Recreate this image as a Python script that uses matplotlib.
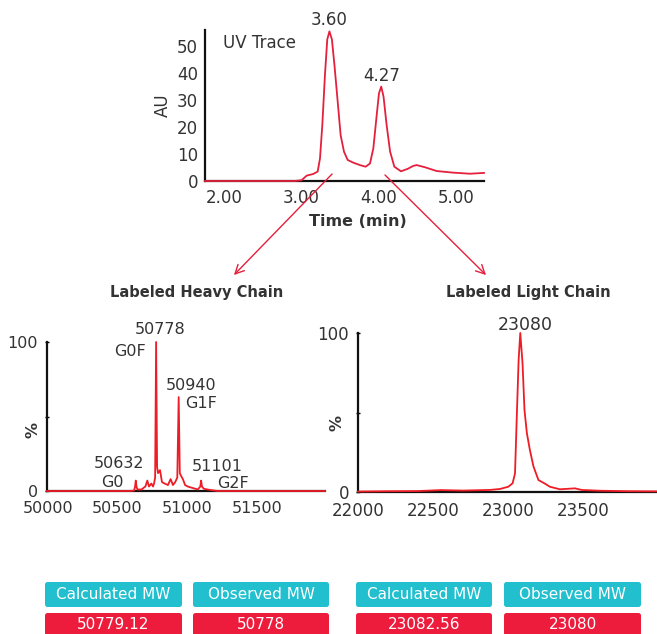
import numpy as np
import matplotlib
matplotlib.use("Agg")
import matplotlib.pyplot as plt
from matplotlib.patches import FancyArrowPatch, FancyBboxPatch

# ------ Data ------#

# UV chromatogram (time in min, absorbance)
uv_time = [1.99, 3.15, 3.24, 3.306, 3.39, 3.448, 3.478, 3.508, 3.542, 3.572, 3.60,
           3.632, 3.665, 3.707, 3.745, 3.788, 3.836, 3.909, 3.995, 4.069, 4.125,
           4.168, 4.212, 4.241, 4.27, 4.30, 4.34, 4.385, 4.44, 4.526, 4.612,
           4.685, 4.729, 4.836, 4.987, 5.202, 5.418, 5.60]
uv_au = [0.0, 0.0, 0.3, 2.0, 2.6, 3.5, 8.4, 20.8, 39.3, 52.5, 55.5,
         52.5, 43.0, 29.4, 17.0, 10.9, 7.8, 6.8, 5.9, 5.3, 6.5,
         12.1, 24.5, 32.5, 35.0, 31.3, 20.8, 10.9, 5.3, 3.6, 4.5,
         5.6, 5.9, 5.1, 3.7, 3.1, 2.7, 3.0]
UV_PEAKS = [3.60, 4.27]
TIME_TICKS = [2.00, 3.00, 4.00, 5.00]
TICK_SHIFT = 0.235  # axis scale lags the reported retention times

# deconvoluted heavy chain spectrum (Da, %)
hc_mass = [49995, 50590, 50620, 50627, 50632, 50637, 50644, 50673, 50701, 50715, 50727,
           50744, 50756, 50763, 50771, 50778, 50785, 50792, 50806, 50820, 50839, 50863,
           50882, 50899, 50915, 50930, 50940, 50948, 50958, 50970, 50986, 51005, 51041,
           51077, 51095, 51101, 51107, 51120, 51160, 51220, 51990]
hc_pct = [0.0, 0.0, 0.3, 3.0, 7.0, 3.0, 1.0, 1.0, 3.0, 7.0, 3.0,
          5.0, 3.0, 5.0, 9.0, 100.0, 16.0, 12.0, 14.0, 6.0, 5.0, 4.0,
          8.0, 4.0, 6.0, 9.0, 63.0, 12.0, 10.0, 8.0, 4.0, 3.0, 2.0,
          1.0, 3.0, 7.0, 3.0, 1.5, 0.8, 0.0, 0.0]
HC_PEAKS = [50632, 50778, 50940, 51101]
HC_GLYCANS = ["G0", "G0F", "G1F", "G2F"]

# deconvoluted light chain spectrum (Da, %)
lc_mass = [22000, 22200, 22400, 22552, 22700, 22878, 22945, 23000, 23029, 23045,
           23056, 23069, 23080, 23095, 23108, 23124, 23144, 23168, 23201, 23240,
           23277, 23344, 23444, 23488, 23610, 23800, 23990]
lc_pct = [0.3, 0.5, 0.6, 1.2, 0.9, 1.3, 1.9, 3.3, 5.5, 11.7,
          45.0, 83.0, 100.0, 81.0, 51.6, 37.0, 26.4, 16.0, 7.5, 5.5,
          3.3, 1.7, 2.3, 1.3, 0.8, 0.5, 0.4]
LC_PEAK = 23080

CALC_MW = ["50779.12", "23082.56"]
OBS_MW = [50778, 23080]

#------------------------#

W, H = 657, 634
TXT = "#333333"
UV_RED = "#e4203c"
MS_RED = "#ee1c25"
TEAL = "#22bfcf"
BOX_RED = "#ee1c3c"

plt.rcParams["font.family"] = ["DejaVu Sans"]

def rect(l, t, r, b):
  return [l / W, 1 - b / H, (r - l) / W, (b - t) / H]

def fx(x):
  return x / W

def fy(y):
  return 1 - y / H

def Style_Axis(ax, size):
  for s in ["top", "right"]:
    ax.spines[s].set_visible(False)
  for s in ["left", "bottom"]:
    ax.spines[s].set_linewidth(1.6)
    ax.spines[s].set_color("#111111")
  ax.tick_params(labelsize=size, labelcolor=TXT, length=0)

fig = plt.figure(figsize=(W / 100, H / 100), dpi=100)

# UV trace
ax1 = fig.add_axes(rect(205, 30, 484, 181))
ax1.plot(uv_time, uv_au, color=UV_RED, lw=1.3, zorder=3, clip_on=False,
         solid_joinstyle="round")
ax1.set_xlim(1.99, 5.60)
ax1.set_ylim(0, 56)
ax1.set_xticks(np.array(TIME_TICKS) + TICK_SHIFT, [f"{t:.2f}" for t in TIME_TICKS])
ax1.set_yticks([0, 10, 20, 30, 40, 50])
Style_Axis(ax1, 12)
ax1.tick_params(axis="x", pad=6)
ax1.tick_params(axis="y", pad=5)
ax1.set_ylabel("AU", fontsize=12, color=TXT, labelpad=4)
ax1.text(0.197, 0.914, "UV Trace", transform=ax1.transAxes, ha="center", va="center",
         fontsize=12, color=TXT)
for t in UV_PEAKS:
  ax1.annotate(f"{t:.2f}", xy=(t, np.interp(t, uv_time, uv_au)), xytext=(0, 2),
               textcoords="offset pixels", ha="center", va="bottom", fontsize=12, color=TXT)
fig.text(fx(358), fy(222), "Time (min)", ha="center", va="center", fontsize=11.5,
         weight="bold", color=TXT)

# heavy chain spectrum
ax2 = fig.add_axes(rect(47, 342, 325, 491))
ax2.plot(hc_mass, hc_pct, color=MS_RED, lw=1.3, zorder=3, clip_on=False)
ax2.set_xlim(49995, 51990)
ax2.set_ylim(0, 100)
ax2.set_xticks([50000, 50500, 51000, 51500])
ax2.set_yticks([0, 50, 100], ["0", "", "100"])
Style_Axis(ax2, 11.5)
ax2.tick_params(axis="x", pad=7)
ax2.tick_params(axis="y", pad=5, length=3, direction="inout", width=1)
hc_offsets = [((-17, 17), (-23, -2)), ((4, 12), (-26, -10)),
              ((12, 12), (22, -6)), ((16, 14), (32, -3))]
for m, g, (o1, o2) in zip(HC_PEAKS, HC_GLYCANS, hc_offsets):
  h = np.interp(m, hc_mass, hc_pct)
  ax2.annotate(str(m), xy=(m, h), xytext=o1, textcoords="offset pixels",
               ha="center", va="center", fontsize=11.5, color=TXT)
  ax2.annotate(g, xy=(m, h), xytext=o2, textcoords="offset pixels",
               ha="center", va="center", fontsize=11.5, color=TXT)
fig.text(fx(33), fy(430), "%", rotation=90, ha="center", va="center", fontsize=11.5,
         weight="bold", color=TXT)

# light chain spectrum
ax3 = fig.add_axes(rect(358, 333, 657, 492))
ax3.plot(lc_mass, lc_pct, color=MS_RED, lw=1.3, zorder=3, clip_on=False,
         solid_joinstyle="round")
ax3.set_xlim(22000, 23990)
ax3.set_ylim(0, 100)
ax3.set_xticks([22000, 22500, 23000, 23500])
ax3.set_yticks([0, 50, 100], ["0", "", "100"])
Style_Axis(ax3, 12)
ax3.tick_params(axis="x", pad=7)
ax3.tick_params(axis="y", pad=5, length=3, direction="inout", width=1)
ax3.annotate(str(LC_PEAK), xy=(LC_PEAK, np.interp(LC_PEAK, lc_mass, lc_pct)), xytext=(5, 8),
             textcoords="offset pixels", ha="center", va="center", fontsize=12.5, color=TXT)
fig.text(fx(337), fy(423), "%", rotation=90, ha="center", va="center", fontsize=11.5,
         weight="bold", color=TXT)

# chain titles and arrows from the UV peaks
fig.text(fx(197), fy(292), "Labeled Heavy Chain", ha="center", va="center",
         fontsize=10.5, weight="bold", color=TXT)
fig.text(fx(528), fy(292), "Labeled Light Chain", ha="center", va="center",
         fontsize=10.5, weight="bold", color=TXT)
for (x0, y0), (x1, y1) in [((334, 172), (232, 277)), ((383, 173), (488, 277))]:
  fig.add_artist(FancyArrowPatch((fx(x0), fy(y0)), (fx(x1), fy(y1)),
                                 transform=fig.transFigure, arrowstyle="->",
                                 mutation_scale=16, color=UV_RED, lw=1))

# MW boxes
box_x = [(45, 182), (193, 329), (356, 492), (504, 641)]
headers = ["Calculated MW", "Observed MW"] * 2
values = [CALC_MW[0], str(OBS_MW[0]), CALC_MW[1], str(OBS_MW[1])]
for (l, r), head, val in zip(box_x, headers, values):
  for (t, b), fc, s in [((582, 607), TEAL, head), ((613, 636), BOX_RED, val)]:
    fig.add_artist(FancyBboxPatch((fx(l), fy(b)), (r - l) / W, (b - t) / H,
                                  boxstyle="round,pad=0,rounding_size=0.004",
                                  transform=fig.transFigure, fc=fc, ec="none"))
    fig.text(fx((l + r) / 2), fy((t + b) / 2), s, ha="center", va="center",
             fontsize=11, color="white")

fig.savefig("out.png", dpi=100)
